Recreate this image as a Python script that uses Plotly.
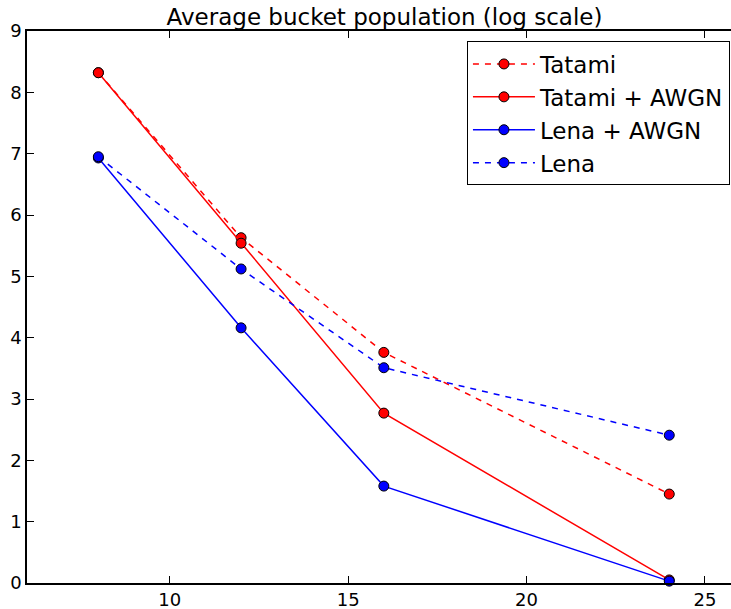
import plotly.graph_objects as go

x_vals = [8, 12, 16, 24]
tatami = [8.32, 5.63, 3.76, 1.45]
tatami_awgn = [8.32, 5.54, 2.77, 0.05]
lena_awgn = [6.93, 4.16, 1.58, 0.03]
lena = [6.95, 5.12, 3.51, 2.41]

series = [
    ("Tatami", tatami, "#FF0000", "6px,6px"),
    ("Tatami + AWGN", tatami_awgn, "#FF0000", "solid"),
    ("Lena + AWGN", lena_awgn, "#0000FF", "solid"),
    ("Lena", lena, "#0000FF", "6px,6px"),
]

x_ticks = [10, 15, 20, 25]
y_ticks = [0, 1, 2, 3, 4, 5, 6, 7, 8, 9]

fig = go.Figure()
for name, ys, color, dash in series:
    fig.add_trace(go.Scatter(
        x=x_vals, y=ys, name=name, mode="lines+markers",
        line=dict(color=color, width=1.5, dash=dash),
        marker=dict(size=10, color=color, line=dict(color="black", width=1)),
        cliponaxis=False,
    ))

font_family = "DejaVu Sans"
fig.update_layout(
    width=731, height=609,
    margin=dict(l=27, r=0, t=31, b=26),
    plot_bgcolor="white", paper_bgcolor="white",
    font=dict(family=font_family, size=18, color="black"),
    title=dict(text="Average bucket population (log scale)", x=0.526, xanchor="center",
               y=0.972, yanchor="middle", font=dict(size=23, family=font_family)),
    xaxis=dict(range=[6, 25.73], tickvals=x_ticks, ticks="inside", ticklen=7,
               tickcolor="black", showline=True, linecolor="black", linewidth=1.5,
               mirror="ticks", showgrid=False, zeroline=False, automargin=False,
               tickfont=dict(size=18)),
    yaxis=dict(range=[0, 9], tickvals=y_ticks, ticks="inside", ticklen=7,
               tickcolor="black", showline=True, linecolor="black", linewidth=1.5,
               mirror=False, showgrid=False, zeroline=False, automargin=False,
               tickfont=dict(size=18)),
    legend=dict(x=0.9985, xanchor="right", y=0.981, yanchor="top",
                bordercolor="black", borderwidth=1, bgcolor="white",
                font=dict(size=23, family=font_family), itemwidth=62,
                tracegroupgap=0),
    showlegend=True,
)

fig.write_html("out.html")
